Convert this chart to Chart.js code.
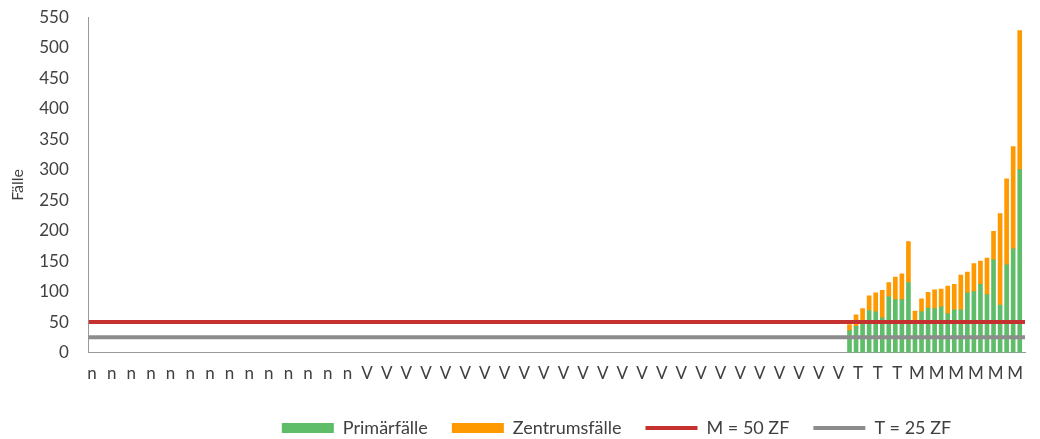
<!DOCTYPE html>
<html lang="de">
<head>
    <meta charset="UTF-8">
    <title>Fälle je Standort</title>
    <style>
        body {
            margin: 0;
            background: #fff;
        }
        .wrap {
            position: relative;
            width: 1040px;
            height: 439px;
        }
    </style>
    <script src="https://cdn.jsdelivr.net/npm/chart.js"></script>
</head>
<body>
    <div class="wrap">
        <canvas id="chart"></canvas>
    </div>

    <script>
        // Kategorien: 42 x n, 74 x V, 10 x T, 17 x M
        const categories = (
            'nnnnnnnnnnnnnnnnnnnnnnnnnnnnnnnnnnnnnnnnnn' +
            'VVVVVVVVVVVVVVVVVVVVVVVVVVVVVVVVVVVVVVVVVVVVVVVVVVVVVVVVVVVVVVVVVVVVVVVVVV' +
            'TTTTTTTTTT' +
            'MMMMMMMMMMMMMMMMM'
        ).split('');

        // Primärfälle (n und V ohne Werte)
        const primary = [
            null, null, null, null, null, null, null, null, null, null, null, null, null, null, null, null, null, null, null, null, null, null, null, null, null, null, null, null, null,
            null, null, null, null, null, null, null, null, null, null, null, null, null, null, null, null, null, null, null, null, null, null, null, null, null, null, null, null, null,
            null, null, null, null, null, null, null, null, null, null, null, null, null, null, null, null, null, null, null, null, null, null, null, null, null, null, null, null, null,
            null, null, null, null, null, null, null, null, null, null, null, null, null, null, null, null, null, null, null, null, null, null, null, null, null, null, null, null, null,
            36, 43, 50, 69, 67, 57, 92, 87, 87, 115,
            49, 67, 73, 72, 75, 64, 70, 70, 98, 100, 112, 95, 152, 78, 144, 170, 300
        ];

        // Zentrumsfälle
        const center = [
            null, null, null, null, null, null, null, null, null, null, null, null, null, null, null, null, null, null, null, null, null, null, null, null, null, null, null, null, null,
            null, null, null, null, null, null, null, null, null, null, null, null, null, null, null, null, null, null, null, null, null, null, null, null, null, null, null, null, null,
            null, null, null, null, null, null, null, null, null, null, null, null, null, null, null, null, null, null, null, null, null, null, null, null, null, null, null, null, null,
            null, null, null, null, null, null, null, null, null, null, null, null, null, null, null, null, null, null, null, null, null, null, null, null, null, null, null, null, null,
            10, 19, 22, 24, 31, 45, 23, 37, 42, 67,
            19, 21, 26, 31, 29, 45, 42, 57, 34, 46, 38, 60, 47, 150, 141, 168, 228
        ];

        // Mindestzahlen Zentrumsfälle
        const limitM = 50;
        const limitT = 25;

        const yTicks = [0, 50, 100, 150, 200, 250, 300, 350, 400, 450, 500, 550];

        const textColor = '#404040';
        const axisColor = '#999999';
        Chart.defaults.font.family = 'Lato, "Open Sans", sans-serif';
        Chart.defaults.font.size = 17;
        Chart.defaults.color = textColor;

        // Legende nach rechts verschieben
        const legendShift = {
            id: 'legendShift',
            afterLayout(chart, args, opts) {
                chart.legend.left += opts.dx;
                chart.legend.right += opts.dx;
            }
        };

        new Chart(document.getElementById('chart'), {
            type: 'bar',
            data: {
                labels: categories,
                datasets: [
                    {
                        label: 'Primärfälle',
                        data: primary,
                        backgroundColor: '#5FBD6A',
                        stack: 'faelle',
                        order: 2,
                        pointStyle: 'rect'
                    },
                    {
                        label: 'Zentrumsfälle',
                        data: center,
                        backgroundColor: '#FF9900',
                        stack: 'faelle',
                        order: 2,
                        pointStyle: 'rect'
                    },
                    {
                        type: 'line',
                        label: 'M = 50 ZF',
                        data: categories.map(() => limitM),
                        xAxisID: 'xLines',
                        borderColor: '#C5312F',
                        backgroundColor: '#C5312F',
                        borderWidth: 4,
                        pointRadius: 0,
                        pointStyle: 'line',
                        stack: 'm',
                        order: 1
                    },
                    {
                        type: 'line',
                        label: 'T = 25 ZF',
                        data: categories.map(() => limitT),
                        xAxisID: 'xLines',
                        borderColor: '#8C8C8C',
                        backgroundColor: '#8C8C8C',
                        borderWidth: 4,
                        pointRadius: 0,
                        pointStyle: 'line',
                        stack: 't',
                        order: 1
                    }
                ]
            },
            options: {
                responsive: true,
                maintainAspectRatio: false,
                animation: false,
                barThickness: 4,
                layout: {
                    padding: { top: 0, right: 15, left: 2, bottom: -8 }
                },
                scales: {
                    x: {
                        stacked: true,
                        grid: { display: false, drawTicks: false },
                        border: { color: axisColor },
                        ticks: {
                            autoSkip: false,
                            maxRotation: 0,
                            padding: 11,
                            callback: (value, index) => index % 3 === 0 ? categories[index] : ''
                        }
                    },
                    // Grenzlinien laufen über die volle Breite
                    xLines: {
                        type: 'category',
                        labels: categories,
                        offset: false,
                        display: false
                    },
                    y: {
                        stacked: true,
                        min: 0,
                        max: 550,
                        afterBuildTicks: axis => {
                            axis.ticks = yTicks.map(v => ({ value: v }));
                        },
                        // keine Teilstriche, tickLength dient nur als Abstand
                        grid: { display: false, drawTicks: true, tickLength: 13 },
                        border: { color: axisColor },
                        ticks: { padding: 7 },
                        title: {
                            display: true,
                            text: 'Fälle',
                            font: { size: 16 },
                            padding: { top: 6, bottom: 5 }
                        }
                    }
                },
                plugins: {
                    legend: {
                        position: 'bottom',
                        labels: {
                            usePointStyle: true,
                            pointStyleWidth: 52,
                            boxHeight: 10,
                            padding: 24,
                            font: { size: 18 },
                            sort: (a, b) => a.datasetIndex - b.datasetIndex
                        }
                    },
                    legendShift: { dx: 103 },
                    tooltip: { enabled: false }
                }
            },
            plugins: [legendShift]
        });
    </script>
</body>
</html>
